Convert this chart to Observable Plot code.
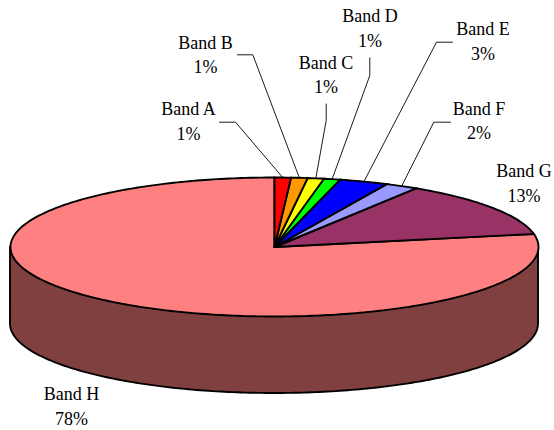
<!DOCTYPE html>
<html>
<head>
<meta charset="utf-8">
<script src="https://cdn.jsdelivr.net/npm/d3@7"></script>
<script src="https://cdn.jsdelivr.net/npm/@observablehq/plot@0.6"></script>
<style>
  html, body { margin: 0; padding: 0; background: #fff; }
  svg { display: block; }
  svg text { font-family: "Liberation Serif", "Times New Roman", Times, serif !important; }
</style>
</head>
<body>
<div id="chart"></div>
<script>
// Share of each band, in percent, clockwise from twelve o'clock.
const bands = ["Band A", "Band B", "Band C", "Band D", "Band E", "Band F", "Band G", "Band H"];
const shares = [1, 1, 1, 1, 3, 2, 13, 78];
const sliceColors = ["#ff0000", "#ff9900", "#ffff00", "#00ff00", "#0000ff", "#9999ff", "#993366", "#ff8080"];
const wallColor = "#804040";

// Label placement: text centre, and the elbow of the leader line where there is one.
const labelX = [188, 205, 325.5, 369.5, 482.5, 478.5, 523.5, 71];
const labelY = [119, 52.5, 72.5, 26, 39, 118.5, 181, 404];
const elbowStart = [[219, 121.7], [237, 54.3], [325.7, 103.5], [369.3, 57.5], [452, 41.7], [450, 121.7], null, null];
const elbowBend = [[235, 121.7], [252.3, 54.3], [325.7, 120], [369.3, 75], [436, 41.7], [433.3, 121.7], null, null];

// Tilted disc geometry, in chart units.
const cx = 274, cy = 246.5, rx = 264, ry = 69.5, depth = 77;
const rim = (pct) => {
  const t = (pct / 100) * 2 * Math.PI;
  return {x: cx + rx * Math.sin(t), y: cy - ry * Math.cos(t)};
};

// Closed outline of each slice of the top face.
const ends = d3.cumsum(shares);
const slices = bands.flatMap((band, i) => {
  const from = i ? ends[i - 1] : 0, to = ends[i];
  const arc = d3.range(0, 1.0001, 1 / Math.ceil((to - from) * 4)).map((f) => rim(from + f * (to - from)));
  return [{x: cx, y: cy}, ...arc, {x: cx, y: cy}].map((p) => ({...p, band}));
}).reverse();

// Visible front half of the cylinder wall.
const wall = d3.range(25, 75.01, 0.25).map(rim).map((p) => ({x: p.x, y1: p.y, y2: p.y + depth}));

const labels = bands.map((band, i) => ({
  text: `${band}\n${shares[i]}%`, x: labelX[i], y: labelY[i]
}));

// Leaders run from the label, through the elbow, to the middle of the slice's rim.
const leaders = bands.flatMap((band, i) => {
  if (!elbowStart[i]) return [];
  const tip = rim((i ? ends[i - 1] : 0) + shares[i] / 2);
  return [elbowStart[i], elbowBend[i], [tip.x, tip.y]].map(([x, y]) => ({x, y, band}));
});

const chart = Plot.plot({
  width: 554,
  height: 430,
  margin: 0,
  x: {domain: [0, 554], range: [0, 554], axis: null},
  y: {domain: [0, 430], range: [0, 430], axis: null},
  color: {domain: bands, range: sliceColors},
  style: {background: "#fff"},
  marks: [
    Plot.area(wall, {x1: "x", y1: "y1", y2: "y2", fill: wallColor, stroke: "#000", strokeWidth: 1.9}),
    Plot.line(slices, {
      x: "x", y: "y", z: "band", fill: "band", stroke: "#000", strokeWidth: 1.9,
      strokeLinejoin: "miter", strokeMiterlimit: 6
    }),
    Plot.line(leaders, {x: "x", y: "y", z: "band", stroke: "#000", strokeWidth: 0.9}),
    Plot.text(labels, {
      x: "x", y: "y", text: "text", fill: "#000",
      fontFamily: "Liberation Serif", fontSize: 18, lineHeight: 1.36, lineAnchor: "middle"
    })
  ]
});
document.getElementById("chart").append(chart);
</script>
</body>
</html>
